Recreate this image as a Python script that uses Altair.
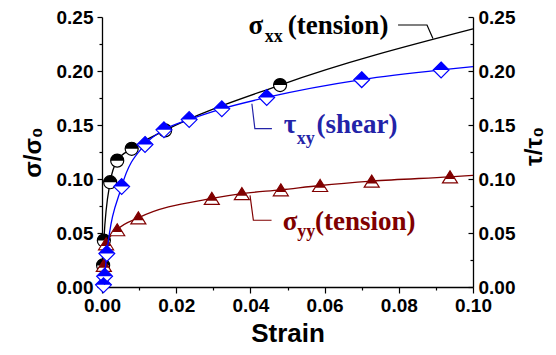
import altair as alt
import pandas as pd

# ---------------- data ----------------
# sigma_xx (tension): marker points, plus where the line ends
xx_strain = [0.0003, 0.0005, 0.0022, 0.0041, 0.0080, 0.0170, 0.0480]
xx_value = [0.020, 0.043, 0.097, 0.117, 0.128, 0.145, 0.187]
xx_end = [0.100, 0.239]

# tau_xy (shear)
xy_strain = [0.0004, 0.0007, 0.0013, 0.0053, 0.0116, 0.0167, 0.0235, 0.0323, 0.0444, 0.0700, 0.0914]
xy_value = [0.002, 0.010, 0.031, 0.093, 0.132, 0.1455, 0.155, 0.165, 0.1755, 0.192, 0.201]
xy_end = [0.100, 0.204]

# sigma_yy (tension)
yy_strain = [0.0005, 0.0011, 0.0041, 0.0098, 0.0296, 0.0377, 0.0482, 0.0588, 0.0727, 0.0938]
yy_value = [0.020, 0.040, 0.053, 0.064, 0.082, 0.0865, 0.090, 0.094, 0.098, 0.102]
yy_end = [0.100, 0.1033]

# tick values
x_ticks = [round(i * 0.01, 2) for i in range(11)]
y_ticks = [round(i * 0.025, 3) for i in range(11)]
y_major = [round(i * 0.05, 2) for i in range(6)]

# annotation pieces: text, strain, value, font size
ann_text = ["σ", "xx", "(tension)", "τ", "xy", "(shear)", "σ", "yy", "(tension)"]
ann_x = [0.0395, 0.0439, 0.0501, 0.0490, 0.0525, 0.0578, 0.0487, 0.0526, 0.0574]
ann_y = [0.2343, 0.2269, 0.2343, 0.1430, 0.1328, 0.1430, 0.0526, 0.0461, 0.0526]
ann_size = [27, 18, 27, 27, 18, 27, 27, 18, 27]

# leader lines
lead_id = ["xx", "xx", "xx", "xy", "xy", "xy", "yy", "yy", "yy"]
lead_x = [0.0798, 0.0876, 0.0892, 0.0404, 0.0412, 0.0458, 0.0399, 0.0408, 0.0457]
lead_y = [0.2426, 0.2426, 0.2300, 0.1697, 0.1467, 0.1467, 0.0849, 0.0618, 0.0618]

# ---------------- styling ----------------
BLACK = "#000000"
BLUE = "#0000ff"
NAVY = "#2323a8"
WINE = "#800000"
W, H = 371, 270
AX_FONT = "Liberation Sans"

xscale = alt.Scale(domain=[0, 0.10], nice=False, zero=False)
yscale = alt.Scale(domain=[0, 0.25], nice=False, zero=False)

major_x = "abs(datum.value*50 - round(datum.value*50)) < 0.001"
major_y = "abs(datum.value*20 - round(datum.value*20)) < 0.001"

axis_common = dict(
    domainColor=BLACK, domainWidth=1.3, tickColor=BLACK, tickWidth=1.2,
    labelFont=AX_FONT, labelFontWeight="bold", labelFontSize=19, labelColor=BLACK,
    titleFont=AX_FONT, titleFontWeight="bold", titleColor=BLACK,
    grid=False, labelOverlap=False, labelBound=False, labelFlush=False,
)

x_axis = alt.Axis(
    values=x_ticks,
    labelExpr=f"{major_x} ? format(datum.value, '.2f') : ''",
    tickSize={"condition": {"test": f"!({major_x})", "value": 3}, "value": 6},
    labelPadding=3,
    title="Strain", titleFontSize=26, titleBaseline="alphabetic",
    titleX=W / 2, titleY=54,
    **axis_common,
)

y_axis_left = alt.Axis(
    orient="left",
    values=y_ticks,
    labelExpr=f"{major_y} ? format(datum.value, '.2f') : ''",
    tickSize={"condition": {"test": f"!({major_y})", "value": 3}, "value": 5},
    labelPadding=4,
    title="σ/σ₀", titleFontSize=24, titleAngle=270, titleBaseline="alphabetic",
    titleX=-62, titleY=H / 2,
    **axis_common,
)

y_axis_right = alt.Axis(
    orient="right",
    values=y_major,
    format=".2f",
    ticks=False, tickSize=0,
    labelPadding=5,
    title="τ/τ₀", titleFontSize=24, titleAngle=270, titleBaseline="alphabetic",
    titleX=68, titleY=H / 2 - 6,
    **axis_common,
)

y_axis_inner = alt.Axis(
    orient="left",
    offset=-W,
    values=y_ticks,
    labels=False,
    domain=False,
    tickColor=BLACK, tickWidth=1.2,
    tickSize={"condition": {"test": f"!({major_y})", "value": 3}, "value": 5},
    title=None,
    grid=False,
)


def X():
    return alt.X("strain:Q", scale=xscale, axis=x_axis)


def Y():
    return alt.Y("value:Q", scale=yscale, axis=y_axis_left)


def line_df(xs, ys, end):
    return pd.DataFrame({
        "strain": list(xs) + [end[0]],
        "value": list(ys) + [end[1]],
        "o": list(range(len(xs) + 1)),
    })


def marker_df(xs, ys):
    return pd.DataFrame({"strain": xs, "value": ys})


# custom marker outlines (unit box -1..1) and their filled upper halves
CIRCLE = "circle"
HALF_CIRCLE = "M-1,0 A1,1 0 0,1 1,0 Z"
DIAMOND = "M0,-1 L1,0 L0,1 L-1,0 Z"
HALF_DIAMOND = "M-1,0 L0,-1 L1,0 Z"
TRIANGLE = "M0,-0.8 L1,0.8 L-1,0.8 Z"
HALF_TRIANGLE = "M0,-0.8 L0.6875,0.3 L-0.6875,0.3 Z"

series = [
    (xx_strain, xx_value, xx_end, BLACK, CIRCLE, HALF_CIRCLE, 170),
    (yy_strain, yy_value, yy_end, WINE, TRIANGLE, HALF_TRIANGLE, 225),
    (xy_strain, xy_value, xy_end, BLUE, DIAMOND, HALF_DIAMOND, 250),
]

layers = []
for xs, ys, end, col, full, half, size in series:
    lines = alt.Chart(line_df(xs, ys, end)).mark_line(
        color=col, strokeWidth=1.3, interpolate="monotone"
    ).encode(x=X(), y=Y(), order="o:Q")
    mdf = marker_df(xs, ys)
    outline = alt.Chart(mdf).mark_point(
        shape=full, size=size, filled=True, fill="white", stroke=col,
        strokeWidth=1.2, opacity=1,
    ).encode(x=X(), y=Y())
    top = alt.Chart(mdf).mark_point(
        shape=half, size=size, filled=True, fill=col, strokeWidth=0, opacity=1,
    ).encode(x=X(), y=Y())
    layers += [lines, outline, top]

lead_color = {"xx": BLACK, "xy": NAVY, "yy": WINE}
lead_df = pd.DataFrame({
    "id": lead_id, "strain": lead_x, "value": lead_y,
    "o": list(range(len(lead_id))),
    "color": [lead_color[i] for i in lead_id],
})
leaders = alt.Chart(lead_df).mark_line(strokeWidth=1.2).encode(
    x=X(), y=Y(), detail="id:N", order="o:Q",
    color=alt.Color("color:N", scale=None),
)

ann_colors = [BLACK] * 3 + [NAVY] * 3 + [WINE] * 3
ann_df = pd.DataFrame({
    "text": ann_text, "strain": ann_x, "value": ann_y,
    "size": ann_size, "color": ann_colors,
})
labels = alt.Chart(ann_df).mark_text(
    align="left", baseline="alphabetic", font="Liberation Serif", fontWeight="bold",
).encode(
    x=X(), y=Y(), text="text:N",
    size=alt.Size("size:Q", scale=None),
    color=alt.Color("color:N", scale=None),
)

main = alt.layer(*layers, leaders, labels)

axis_df = pd.DataFrame({"value": [0.0, 0.25]})
right_axis = alt.Chart(axis_df).mark_rule(opacity=0).encode(
    y=alt.Y("value:Q", scale=yscale, axis=y_axis_right)
)
inner_ticks = alt.Chart(axis_df).mark_rule(opacity=0).encode(
    y=alt.Y("value:Q", scale=yscale, axis=y_axis_inner)
)

chart = alt.layer(main, right_axis, inner_ticks).resolve_scale(
    y="independent"
).properties(
    width=W, height=H,
    padding={"left": 94, "top": 9, "right": 75, "bottom": 60},
    autosize=alt.AutoSizeParams(type="none"),
    background="white",
).configure_view(stroke=None)

chart.save("out.html", embed_options={"renderer": "svg", "actions": False})
